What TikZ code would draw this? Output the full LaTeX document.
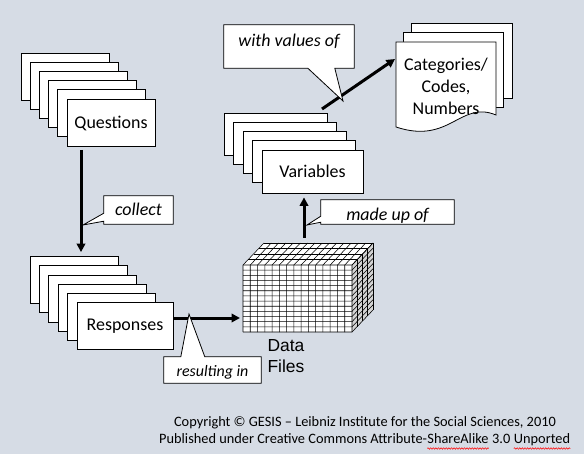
\documentclass[tikz,border=0pt]{standalone}
\usepackage{fontspec}
\setmainfont{Carlito}
\newfontfamily\arialfont{Liberation Sans}
\usetikzlibrary{arrows.meta,calc,decorations.pathmorphing}
\definecolor{slidebg}{HTML}{D6DCE5}
\definecolor{cubeside}{HTML}{D4D4D4}
\tikzset{
  page/.style={draw, fill=white, line width=0.8bp, inner sep=0pt, minimum width=88bp, minimum height=47bp, font=\fontsize{18}{21.6}\selectfont},
  flow/.style={line width=3bp, -{Triangle[length=8.5bp,width=8.5bp]}},
  callbox/.style={fill=white, inner sep=0pt, font=\itshape\fontsize{18}{21.6}\selectfont},
  callline/.style={line width=0.8bp, line join=miter},
  gridline/.style={line width=0.55bp},
  footer/.style={inner sep=0pt, anchor=base west, font=\fontsize{14.4}{17}\selectfont},
  spellwave/.style={red, line width=0.5bp, decorate, decoration={snake, amplitude=0.8bp, segment length=2.6bp}},
}
\begin{document}
\begin{tikzpicture}[x=1bp,y=1bp,yscale=-1,xscale=1]
        \useasboundingbox (0,0) rectangle (584,454);
        \fill[slidebg] (0,0) rectangle (584,454);
        %Shape: Rectangle stack (Questions)
        \foreach \k in {0,...,4}
          \node[page] (q\k) at ({65+9.2*\k},{76.5+9.2*\k}) {};
        \node[page] (questions) at (111,123) {Questions};
        %Shape: Rectangle stack (Responses)
        \foreach \k in {0,...,4}
          \node[page] (r\k) at ({74+9.3*\k},{280+9.3*\k}) {};
        \node[page, minimum width=96bp] (responses) at (125,326) {Responses};
        %Shape: Rectangle stack (Variables)
        \foreach \k in {0,...,3}
          \node[page, minimum width=103bp, minimum height=42bp] (v\k) at ({275.5+9.5*\k},{134+9.3*\k}) {};
        \node[page, minimum width=101bp, minimum height=43bp] (variables) at (312.5,171.5) {Variables};
        %Shape: Document stack (Categories)
        \node[page, minimum width=101bp, minimum height=75bp] (cat0) at (461.5,60.5) {};
        \node[page, minimum width=100bp, minimum height=75bp] (cat1) at (453,69.5) {};
        \draw[fill=white, line width=0.8bp] (396,42) -- (496,42) -- (496,115) .. controls (460,100) and (450,145) .. (396,127) -- cycle;
        % Text Node
        \node[font=\fontsize{18}{22}\selectfont, align=center] (categories) at (446,86) {Categories/\\Codes,\\Numbers};
        %Shape: Data cube
        \node[minimum width=109bp, minimum height=67bp, inner sep=0pt] (cube) at (297.5,298.5) {};
        \begin{scope}[shift={(243,265)}]
          \fill[white] (0,0) -- (21,-22) -- (130,-22) -- (109,0) -- cycle;
          \fill[cubeside] (109,0) -- (130,-22) -- (130,45) -- (109,67) -- cycle;
          \fill[white] (0,0) rectangle (109,67);
          \foreach \i in {0,...,15}
            \draw[gridline] ({\i*109/15},67) -- ({\i*109/15},0) -- ++(21,-22);
          \foreach \j in {0,...,13}
            \draw[gridline] (0,{\j*67/13}) -- (109,{\j*67/13}) -- ++(21,-22);
          \foreach \d in {1,...,4}
            \draw[gridline] ({\d*21/4},{-\d*22/4}) -- ++(109,0) -- ++(0,67);
        \end{scope}
        % Text Node
        \node[font=\arialfont\fontsize{17.5}{21.6}\selectfont, align=left, anchor=west] (datalabel) at (264,356) {Data\\Files};
        %Straight Lines
        \coordinate (qout) at (81,150);
        \coordinate (datain) at (240,318);
        \coordinate (dataout) at (304,238);
        \coordinate (vout) at (322,109);
        \coordinate (catin) at (395,59);
        \draw[flow, shorten >=4bp] (qout) -- (qout |- r0.north);
        \draw[flow] (responses.east |- datain) -- (datain);
        \draw[flow, shorten >=4bp] (dataout) -- (dataout |- variables.south);
        \draw[flow] (vout) -- (catin);
        %Shape: Callout (collect)
        \node[callbox, minimum width=69bp, text height=20bp, text depth=8bp] (collect) at (138.5,210) {collect};
        \coordinate (collecttip) at (83,225);
        \fill[white] ($(collect.south west)+(0,-3)$) -- (collecttip) -- ($(collect.south west)+(0,-11)$) -- cycle;
        \draw[callline] (collect.north west) -- (collect.north east) -- (collect.south east) -- (collect.south west) -- ($(collect.south west)+(0,-3)$) -- (collecttip) -- ($(collect.south west)+(0,-11)$) -- cycle;
        %Shape: Callout (made up of)
        \node[callbox, minimum width=133bp, text height=21bp, text depth=3bp] (madeup) at (387.5,212) {made up of};
        \coordinate (madeuptip) at (307,225);
        \fill[white] ($(madeup.south west)+(0,-2)$) -- (madeuptip) -- ($(madeup.south west)+(0,-8)$) -- cycle;
        \draw[callline] (madeup.north west) -- (madeup.north east) -- (madeup.south east) -- (madeup.south west) -- ($(madeup.south west)+(0,-2)$) -- (madeuptip) -- ($(madeup.south west)+(0,-8)$) -- cycle;
        %Shape: Callout (with values of)
        \node[callbox, minimum width=130bp, text height=21.5bp, text depth=21.5bp] (values) at (289,46.5) {with values of};
        \coordinate (valuestip) at (343,101);
        \fill[white] ($(values.south west)+(111,0)$) -- (valuestip) -- ($(values.south west)+(84,0)$) -- cycle;
        \draw[callline] (values.north west) -- (values.north east) -- (values.south east) -- ($(values.south west)+(111,0)$) -- (valuestip) -- ($(values.south west)+(84,0)$) -- (values.south west) -- cycle;
        %Shape: Callout (resulting in)
        \node[callbox, font=\itshape\fontsize{16}{19}\selectfont, minimum width=97bp, text height=19.7bp, text depth=6.3bp] (resulting) at (212.5,370) {resulting in};
        \coordinate (resultingtip) at (189,314);
        \fill[white] ($(resulting.north west)+(17,0)$) -- (resultingtip) -- ($(resulting.north west)+(41,0)$) -- cycle;
        \draw[callline] (resulting.north west) -- ($(resulting.north west)+(17,0)$) -- (resultingtip) -- ($(resulting.north west)+(41,0)$) -- (resulting.north east) -- (resulting.south east) -- (resulting.south west) -- cycle;
        % Text Node
        \node[font=\fontsize{14.4}{17}\selectfont, anchor=base] (copyright) at (365,426.5) {Copyright © GESIS -- Leibniz Institute for the Social Sciences, 2010};
        \node[footer] (published) at (159,443.5) {Published under Creative Commons Attribute-};
        \node[footer] (sharealike) at (published.base east) {ShareAlike};
        \node[footer] (version) at ($(sharealike.base east)+(3.25,0)$) {3.0};
        \node[footer] (unported) at ($(version.base east)+(3.25,0)$) {Unported};
        \draw[spellwave] ($(sharealike.base west)+(0,5)$) -- ($(sharealike.base east)+(0,5)$);
        \draw[spellwave] ($(unported.base west)+(0,5)$) -- ($(unported.base east)+(0,5)$);
\end{tikzpicture}
\end{document}
